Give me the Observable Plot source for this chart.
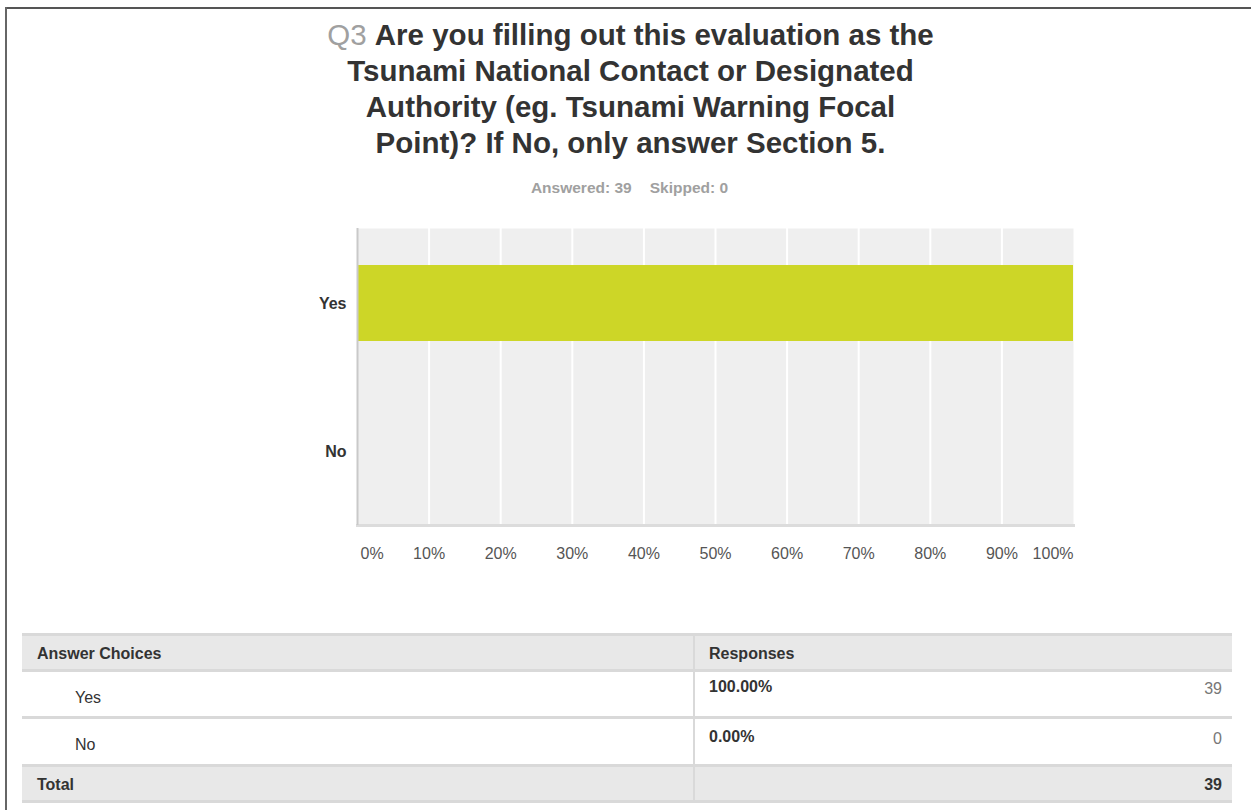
<!DOCTYPE html>
<html>
<head>
<meta charset="utf-8">
<script src="https://cdn.jsdelivr.net/npm/d3@7"></script>
<script src="https://cdn.jsdelivr.net/npm/@observablehq/plot@0.6"></script>
<style>
  html, body { margin: 0; padding: 0; background: #fff; }
  body { width: 1251px; height: 810px; position: relative; overflow: hidden;
         font-family: "Liberation Sans", Arial, Helvetica, sans-serif; }
  .border-top { position: absolute; left: 5px; top: 7px; width: 1246px; height: 2px; background: #555; }
  .border-left { position: absolute; left: 5px; top: 7px; width: 2px; height: 803px; background: #666; }
  #title { position: absolute; left: 0; top: 17px; width: 1261px; text-align: center;
           font-size: 29.5px; line-height: 36px; font-weight: bold; color: #333; }
  #title .q { color: #a0a0a0; font-weight: normal; }
  #sub { position: absolute; left: 0; top: 178px; width: 1259px; text-align: center;
         font-size: 15.5px; line-height: 20px; font-weight: bold; color: #a0a0a0; word-spacing: 0; }
  #sub span + span { margin-left: 18px; }
  #chart { position: absolute; left: 0; top: 210px; }
  #table { position: absolute; left: 22px; top: 633px; width: 1210px; font-size: 16px; color: #333; }
  .row { position: relative; display: flex; box-sizing: border-box; border-top: 3px solid #d9d9d9; }
  .row.last { border-bottom: 3px solid #d9d9d9; }
  .row.gray { background: #e8e8e8; }
  .c1 { width: 673px; box-sizing: border-box; border-right: 2px solid #d9d9d9; position: relative; }
  .c2 { flex: 1; position: relative; }
  .cell-text { position: absolute; line-height: 20px; white-space: nowrap; }
  .b { font-weight: bold; }
  .num { color: #777; }
</style>
</head>
<body>
<div class="border-top"></div>
<div class="border-left"></div>
<div id="title"></div>
<div id="sub"></div>
<div id="chart"></div>
<div id="table"></div>
<script>
// ---- data ----
const questionNo = "Q3";
const titleLines = [
  "Are you filling out this evaluation as the",
  "Tsunami National Contact or Designated",
  "Authority (eg. Tsunami Warning Focal",
  "Point)? If No, only answer Section 5."
];
const answered = 39;
const skipped = 0;
const choices = ["Yes", "No"];
const shares = [1.0, 0.0];
const counts = [39, 0];
const total = 39;
const xTicks = [0, 0.1, 0.2, 0.3, 0.4, 0.5, 0.6, 0.7, 0.8, 0.9, 1.0];

// ---- title ----
const title = document.getElementById("title");
titleLines.forEach((line, i) => {
  if (i === 0) {
    const q = document.createElement("span");
    q.className = "q";
    q.textContent = questionNo + " ";
    title.appendChild(q);
  }
  title.appendChild(document.createTextNode(line));
  if (i < titleLines.length - 1) title.appendChild(document.createElement("br"));
});
const sub = document.getElementById("sub");
[["Answered: ", answered], ["Skipped: ", skipped]].forEach(([k, v]) => {
  const s = document.createElement("span");
  s.textContent = k + v;
  sub.appendChild(s);
});

// ---- chart ----
const rows = choices.map((c, i) => ({choice: c, share: shares[i], count: counts[i]}));
const pct = d => Math.round(d * 100) + "%";
const midTicks = xTicks.slice(1, -1);
const chart = Plot.plot({
  width: 1251,
  height: 360,
  marginLeft: 357,
  marginRight: 178,
  marginTop: 18,
  marginBottom: 45,
  style: {fontFamily: "'Liberation Sans', Arial, Helvetica, sans-serif", fontSize: "16px", background: "transparent"},
  x: {domain: [0, 1], axis: null, label: null},
  y: {domain: choices, padding: 0, axis: null, label: null},
  marks: [
    Plot.frame({fill: "#efefef", stroke: null}),
    Plot.gridX(midTicks, {stroke: "#ffffff", strokeOpacity: 1, strokeWidth: 2}),
    Plot.barX(rows, {x: "share", y: "choice", fill: "#cdd627", insetTop: 36, insetBottom: 36}),
    Plot.frame({anchor: "bottom", stroke: "#dcdcdc", strokeWidth: 3}),
    Plot.ruleX([0], {stroke: "#c9c9c9", strokeWidth: 2}),
    Plot.axisY({tickSize: 0, tickPadding: 11, fontWeight: "bold", color: "#333", fontSize: 16, label: null}),
    Plot.axisX(midTicks, {tickSize: 0, tickPadding: 22, tickFormat: pct, color: "#555", fontSize: 16, label: null}),
    Plot.axisX([xTicks[0]], {tickSize: 0, tickPadding: 22, tickFormat: pct, textAnchor: "start", dx: 3, color: "#555", fontSize: 16, label: null}),
    Plot.axisX([xTicks[xTicks.length - 1]], {tickSize: 0, tickPadding: 22, tickFormat: pct, textAnchor: "end", color: "#555", fontSize: 16, label: null})
  ]
});
document.getElementById("chart").appendChild(chart);

// ---- table ----
const table = document.getElementById("table");
function makeRow(opts) {
  const r = document.createElement("div");
  r.className = "row" + (opts.gray ? " gray" : "") + (opts.last ? " last" : "");
  r.style.height = opts.h + "px";
  const c1 = document.createElement("div"); c1.className = "c1";
  const c2 = document.createElement("div"); c2.className = "c2";
  opts.cells.forEach(cell => {
    const t = document.createElement("div");
    t.className = "cell-text " + (cell.cls || "");
    t.textContent = cell.text;
    t.style.top = cell.top + "px";
    if (cell.left != null) t.style.left = cell.left + "px";
    if (cell.right != null) t.style.right = cell.right + "px";
    (cell.col === 1 ? c1 : c2).appendChild(t);
  });
  r.appendChild(c1); r.appendChild(c2);
  table.appendChild(r);
}
const fmtPct = v => (v * 100).toFixed(2) + "%";
makeRow({gray: true, h: 36, cells: [
  {col: 1, text: "Answer Choices", cls: "b", left: 15, top: 8},
  {col: 2, text: "Responses", cls: "b", left: 14, top: 8}
]});
const rowH = [47, 48];
const pctTop = [5, 8];
rows.forEach((d, i) => {
  makeRow({h: rowH[i], cells: [
    {col: 1, text: d.choice, left: 53, top: 16},
    {col: 2, text: fmtPct(d.share), cls: "b", left: 14, top: pctTop[i]},
    {col: 2, text: String(d.count), cls: "num", right: 10, top: pctTop[i] + 2}
  ]});
});
makeRow({gray: true, last: true, h: 39, cells: [
  {col: 1, text: "Total", cls: "b", left: 15, top: 8},
  {col: 2, text: String(total), cls: "b", right: 10, top: 8}
]});
</script>
</body>
</html>
